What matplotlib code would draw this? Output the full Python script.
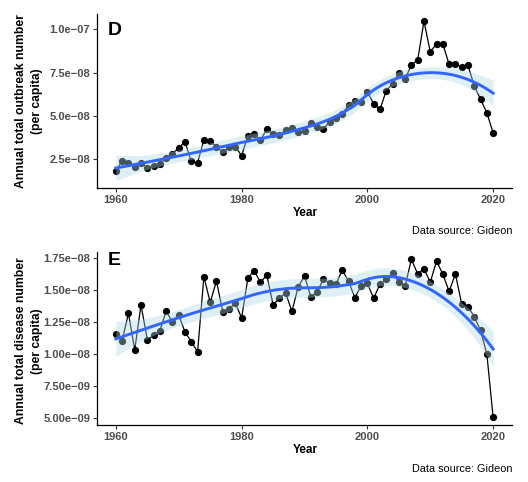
import numpy as np
import matplotlib
matplotlib.use("Agg")
import matplotlib.pyplot as plt

plt.rcParams['font.family'] = ['Liberation Sans', 'DejaVu Sans']

years = list(range(1960, 2021))

outbreaks = [1.81e-8, 2.42e-8, 2.27e-8, 2.07e-8, 2.27e-8, 2.02e-8, 2.11e-8, 2.21e-8, 2.59e-8, 2.81e-8,
             3.17e-8, 3.50e-8, 2.38e-8, 2.30e-8, 3.63e-8, 3.55e-8, 3.23e-8, 2.90e-8, 3.19e-8, 3.23e-8,
             2.71e-8, 3.86e-8, 3.97e-8, 3.61e-8, 4.23e-8, 3.96e-8, 3.90e-8, 4.19e-8, 4.30e-8, 4.06e-8,
             4.13e-8, 4.57e-8, 4.34e-8, 4.23e-8, 4.67e-8, 4.86e-8, 5.11e-8, 5.63e-8, 5.88e-8, 5.82e-8,
             6.39e-8, 5.69e-8, 5.38e-8, 6.45e-8, 6.84e-8, 7.49e-8, 7.13e-8, 7.93e-8, 8.22e-8, 1.045e-7,
             8.70e-8, 9.14e-8, 9.14e-8, 7.97e-8, 8.00e-8, 7.80e-8, 7.91e-8, 6.72e-8, 5.96e-8, 5.18e-8,
             4.03e-8]

diseases = [1.154e-8, 1.104e-8, 1.319e-8, 1.033e-8, 1.384e-8, 1.112e-8, 1.146e-8, 1.182e-8, 1.337e-8, 1.248e-8,
            1.303e-8, 1.172e-8, 1.096e-8, 1.018e-8, 1.606e-8, 1.405e-8, 1.572e-8, 1.331e-8, 1.355e-8, 1.397e-8,
            1.284e-8, 1.596e-8, 1.653e-8, 1.562e-8, 1.619e-8, 1.386e-8, 1.436e-8, 1.478e-8, 1.334e-8, 1.527e-8,
            1.611e-8, 1.449e-8, 1.483e-8, 1.588e-8, 1.554e-8, 1.546e-8, 1.658e-8, 1.572e-8, 1.441e-8, 1.533e-8,
            1.554e-8, 1.436e-8, 1.549e-8, 1.585e-8, 1.632e-8, 1.566e-8, 1.533e-8, 1.742e-8, 1.627e-8, 1.669e-8,
            1.562e-8, 1.729e-8, 1.625e-8, 1.491e-8, 1.627e-8, 1.392e-8, 1.371e-8, 1.292e-8, 1.185e-8, 1.00e-8,
            5.03e-9]

x_ticks = [1960, 1980, 2000, 2020]
top_ticks = [2.5e-8, 5.0e-8, 7.5e-8, 1.0e-7]
top_labels = ["2.5e\u221208", "5.0e\u221208", "7.5e\u221208", "1.0e\u221207"]
bot_ticks = [5.0e-9, 7.5e-9, 1.0e-8, 1.25e-8, 1.5e-8, 1.75e-8]
bot_labels = ["5.00e\u221209", "7.50e\u221209", "1.00e\u221208", "1.25e\u221208", "1.50e\u221208", "1.75e\u221208"]


def loess_weights(x, x0, q):
    d = np.abs(x - x0)
    h = np.sort(d)[q - 1]
    u = np.clip(d / h, 0, 1)
    w = (1 - u**3)**3
    X = np.column_stack([np.ones_like(x), x - x0, (x - x0)**2])
    XtW = X.T * w
    return np.linalg.solve(XtW @ X, XtW)[0]


def loess(x, y, xs, span=0.75):
    x = np.asarray(x, float)
    y = np.asarray(y, float)
    n = len(x)
    q = int(np.floor(n * span))
    L = np.array([loess_weights(x, xi, q) for xi in x])
    R = np.eye(n) - L
    RR = R.T @ R
    d1 = np.trace(RR)
    d2 = np.trace(RR @ RR)
    sigma = np.sqrt(np.sum((R @ y)**2) / d1)
    df = d1**2 / d2
    z = 1.959964
    t = z + (z**3 + z) / (4 * df) + (5 * z**5 + 16 * z**3 + 3 * z) / (96 * df**2)
    ls = np.array([loess_weights(x, x0, q) for x0 in xs])
    fit = ls @ y
    se = sigma * np.sqrt(np.sum(ls**2, axis=1))
    return fit, fit - t * se, fit + t * se


def panel(ax, vals, letter, yticks, ylabels, ylim, letter_y):
    ax.plot(years, vals, color='black', lw=0.9, marker='o', ms=4.2, zorder=2)
    xs = np.linspace(years[0], years[-1], 80)
    fit, lo, hi = loess(years, vals, xs)
    ax.fill_between(xs, lo, hi, color='lightblue', alpha=0.4, lw=0, zorder=3)
    ax.plot(xs, fit, color='#3366FF', lw=2.1, zorder=4)
    ax.set_xlim(1957, 2023)
    ax.set_ylim(*ylim)
    ax.set_xticks(x_ticks)
    ax.set_yticks(yticks)
    ax.set_yticklabels(ylabels)
    ax.spines['top'].set_visible(False)
    ax.spines['right'].set_visible(False)
    ax.spines['left'].set_linewidth(0.9)
    ax.spines['bottom'].set_linewidth(0.9)
    ax.tick_params(length=3, width=0.8, pad=2, color='#333333', labelsize=8, labelcolor='#4d4d4d')
    for lab in ax.get_xticklabels() + ax.get_yticklabels():
        lab.set_fontweight('bold')
    ax.text(0.027, letter_y, letter, transform=ax.transAxes, fontsize=14, fontweight='bold',
            ha='left', va='center')


fig = plt.figure(figsize=(5.28, 4.82), dpi=100)
ax1 = fig.add_axes([97/528, 1 - 188/482, 415/528, 174/482])
ax2 = fig.add_axes([97/528, 1 - 425/482, 415/528, 173.3/482])

panel(ax1, outbreaks, "D", top_ticks, top_labels, (0.847e-8, 1.087e-7), 0.908)
panel(ax2, diseases, "E", bot_ticks, bot_labels, (4.43e-9, 1.802e-8), 0.952)

fig.text(29/528, 1 - 101/482, "Annual total outbreak number\n(per capita)", rotation=90,
         ha='center', va='center', fontsize=8.7, fontweight='bold', linespacing=1.4)
fig.text(29/528, 1 - 341/482, "Annual total disease number\n(per capita)", rotation=90,
         ha='center', va='center', fontsize=8.7, fontweight='bold', linespacing=1.4)

fig.text(305/528, 1 - 213/482, "Year", ha='center', va='center', fontsize=8.5, fontweight='bold')
fig.text(305/528, 1 - 450/482, "Year", ha='center', va='center', fontsize=8.5, fontweight='bold')

fig.text(512/528, 1 - 231/482, "Data source: Gideon", ha='right', va='center', fontsize=7.8)
fig.text(512/528, 1 - 468.5/482, "Data source: Gideon", ha='right', va='center', fontsize=7.8)

fig.savefig("out.png", dpi=100)
